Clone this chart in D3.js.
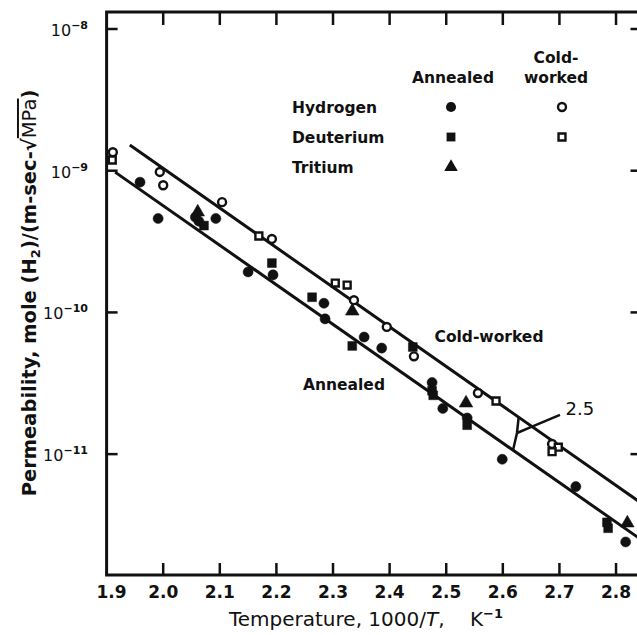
<!DOCTYPE html>
<html>
<head>
<meta charset="utf-8">
<script src="https://cdn.jsdelivr.net/npm/d3@7/dist/d3.min.js"></script>
<style>
  html, body { margin: 0; padding: 0; background: #fff; }
  svg { display: block; }
  text { font-family: "DejaVu Sans", sans-serif; font-weight: bold; fill: #111; }
</style>
</head>
<body>
<svg id="chart" width="637" height="635"></svg>
<script>
// ---------- data (x = 1000/T in K^-1, y = permeability) ----------
const xTicks = [1.9, 2.0, 2.1, 2.2, 2.3, 2.4, 2.5, 2.6, 2.7, 2.8];
const xTickLabels = ["1.9", "2.0", "2.1", "2.2", "2.3", "2.4", "2.5", "2.6", "2.7", "2.8"];
const yTicks = [1e-8, 1e-9, 1e-10, 1e-11];
const yTickExps = ["−8", "−9", "−10", "−11"];

const annealedHydrogen = [
  [1.959, 8.3e-10], [1.991, 4.6e-10], [2.063, 4.4e-10], [2.057, 4.7e-10], [2.093, 4.6e-10],
  [2.150, 1.93e-10], [2.194, 1.84e-10], [2.284, 1.16e-10], [2.286, 9.0e-11],
  [2.355, 6.7e-11], [2.386, 5.6e-11], [2.475, 3.2e-11], [2.494, 2.1e-11],
  [2.537, 1.8e-11], [2.599, 9.2e-12], [2.729, 5.9e-12], [2.817, 2.4e-12]
];
const annealedDeuterium = [
  [2.072, 4.1e-10], [2.192, 2.23e-10], [2.263, 1.28e-10], [2.334, 5.8e-11],
  [2.441, 5.7e-11], [2.475, 2.8e-11], [2.477, 2.6e-11], [2.537, 1.6e-11],
  [2.784, 3.3e-12], [2.786, 3.0e-12]
];
const annealedTritium = [
  [2.061, 5.1e-10], [2.334, 1.02e-10], [2.535, 2.29e-11], [2.820, 3.26e-12]
];
const coldHydrogen = [
  [1.911, 1.35e-9], [1.994, 9.8e-10], [2.000, 7.9e-10], [2.104, 6.0e-10],
  [2.192, 3.3e-10], [2.337, 1.22e-10], [2.395, 7.9e-11], [2.443, 4.9e-11],
  [2.556, 2.7e-11], [2.687, 1.18e-11]
];
const coldDeuterium = [
  [1.910, 1.19e-9], [2.169, 3.46e-10], [2.304, 1.61e-10], [2.325, 1.56e-10],
  [2.588, 2.37e-11], [2.698, 1.12e-11], [2.687, 1.04e-11]
];
const coldLine = [[1.941, 1.52e-9], [2.845, 4.50e-12]];
const annealedLine = [[1.915, 9.77e-10], [2.845, 2.48e-12]];
const slopeLabel = "2.5";

// ---------- layout ----------
const svg = d3.select("#chart");
const L = 106.6, R = 641.5, T = 12, B = 575;
const x = d3.scaleLinear().domain([1.9, 2.845]).range([L, R]);
const y = d3.scaleLog().domain([Math.pow(10, -11.853), Math.pow(10, -7.88)]).range([B, T]);

// value on a fit line (log-linear) at given x
function onLine(line, xv) {
  const [a, b] = line;
  const t = (xv - a[0]) / (b[0] - a[0]);
  return Math.pow(10, Math.log10(a[1]) + t * (Math.log10(b[1]) - Math.log10(a[1])));
}

// frame
svg.append("rect").attr("x", L).attr("y", T).attr("width", R - L).attr("height", B - T)
  .attr("fill", "none").attr("stroke", "#111").attr("stroke-width", 3);

// x ticks bottom & top
const gx = svg.append("g");
xTicks.forEach((t, i) => {
  if (i === 0) return;
  gx.append("line").attr("x1", x(t)).attr("x2", x(t)).attr("y1", B).attr("y2", B - 12)
    .attr("stroke", "#111").attr("stroke-width", 2.5);
  gx.append("line").attr("x1", x(t)).attr("x2", x(t)).attr("y1", T).attr("y2", T + 13)
    .attr("stroke", "#111").attr("stroke-width", 2.5);
});
xTicks.forEach((t, i) => {
  svg.append("text").attr("x", x(t) + (i === 0 ? 5 : 0)).attr("y", 598)
    .attr("text-anchor", "middle").style("font-size", "17px").text(xTickLabels[i]);
});

// y ticks left & right
yTicks.forEach((t, i) => {
  svg.append("line").attr("x1", L).attr("x2", L + 11).attr("y1", y(t)).attr("y2", y(t))
    .attr("stroke", "#111").attr("stroke-width", 2.5);
  svg.append("line").attr("x1", R).attr("x2", R - 11).attr("y1", y(t)).attr("y2", y(t))
    .attr("stroke", "#111").attr("stroke-width", 2.5);
  const tx = svg.append("text").attr("x", 88).attr("y", y(t) + 7)
    .attr("text-anchor", "end").style("font-size", "16px").style("font-weight", "normal");
  tx.append("tspan").text("10");
  tx.append("tspan").attr("dy", -7).style("font-size", "11px").style("font-weight", "bold").text(yTickExps[i]);
});

// axis titles
const xt = svg.append("text").attr("x", 366).attr("y", 626).attr("text-anchor", "middle")
  .style("font-size", "20px").style("font-weight", "normal").style("white-space", "pre");
xt.append("tspan").text("Temperature, 1000/");
xt.append("tspan").style("font-style", "italic").text("T");
xt.append("tspan").text(",    K");
xt.append("tspan").attr("dy", -8).style("font-size", "13px").style("font-weight", "bold").text("−1");

const yt = svg.append("text").attr("transform", "translate(36,293) rotate(-90)")
  .attr("text-anchor", "middle").style("font-size", "19.5px");
yt.append("tspan").text("Permeability, mole (H");
yt.append("tspan").attr("dy", 4).style("font-size", "13px").text("2");
yt.append("tspan").attr("dy", -4).text(")/(m-sec-√");
yt.append("tspan").style("text-decoration", "overline").style("font-weight", "normal").text("MPa");
yt.append("tspan").text(")");

// fit lines
const lineGen = d3.line().x(d => x(d[0])).y(d => y(d[1]));
[coldLine, annealedLine].forEach(l => {
  svg.append("path").attr("d", lineGen(l)).attr("fill", "none")
    .attr("stroke", "#111").attr("stroke-width", 3);
});

// slope annotation bracket
const xs = 2.618, xf = 2.625, xl = 2.628, xr = 2.6516;
const fork = [xf, 1.41e-11];
const bracket = [
  [xs, onLine(annealedLine, xs)], fork, [xl, onLine(coldLine, xl)]
];
svg.append("path").attr("d", lineGen(bracket)).attr("fill", "none").attr("stroke", "#111").attr("stroke-width", 2.5);
svg.append("path").attr("d", lineGen([fork, [xr, onLine(coldLine, xr)]])).attr("fill", "none")
  .attr("stroke", "#111").attr("stroke-width", 2.5);
svg.append("path").attr("d", lineGen([[xr, onLine(coldLine, xr)], [2.701, 1.89e-11]])).attr("fill", "none")
  .attr("stroke", "#111").attr("stroke-width", 2.5);
svg.append("text").attr("x", x(2.736)).attr("y", y(2.11e-11) + 7).attr("text-anchor", "middle")
  .style("font-size", "18px").style("font-weight", "normal").text(slopeLabel);

// line labels
svg.append("text").attr("x", 489).attr("y", 342).attr("text-anchor", "middle").style("font-size", "15.5px").text("Cold-worked");
svg.append("text").attr("x", 344).attr("y", 390).attr("text-anchor", "middle").style("font-size", "15.5px").text("Annealed");

// markers
const sym = {
  circle: d3.symbol().type(d3.symbolCircle).size(80),
  square: d3.symbol().type(d3.symbolSquare).size(78),
  triangle: d3.symbol().type(d3.symbolTriangle).size(80),
  ocircle: d3.symbol().type(d3.symbolCircle).size(50),
  osquare: d3.symbol().type(d3.symbolSquare).size(48)
};
function plot(data, kind, open) {
  svg.append("g").selectAll("path").data(data).join("path")
    .attr("transform", d => `translate(${x(d[0])},${y(d[1])})`)
    .attr("d", sym[kind]())
    .attr("fill", open ? "#fff" : "#111")
    .attr("stroke", "#111").attr("stroke-width", open ? 2.4 : 0.5);
}
plot(annealedHydrogen, "circle", false);
plot(annealedDeuterium, "square", false);
plot(annealedTritium, "triangle", false);
plot(coldHydrogen, "ocircle", true);
plot(coldDeuterium, "osquare", true);

// legend
const lg = svg.append("g");
lg.append("text").attr("x", 453).attr("y", 83).attr("text-anchor", "middle").style("font-size", "15.5px").text("Annealed");
lg.append("text").attr("x", 556).attr("y", 63).attr("text-anchor", "middle").style("font-size", "15.5px").text("Cold-");
lg.append("text").attr("x", 556).attr("y", 83).attr("text-anchor", "middle").style("font-size", "15.5px").text("worked");
const legendRows = [
  { name: "Hydrogen", a: "circle", c: "ocircle", cy: 107 },
  { name: "Deuterium", a: "square", c: "osquare", cy: 137 },
  { name: "Tritium", a: "triangle", c: null, cy: 167 }
];
legendRows.forEach(r => {
  lg.append("text").attr("x", 292).attr("y", r.cy + 6).style("font-size", "15.5px").text(r.name);
  lg.append("path").attr("transform", `translate(451,${r.cy})`).attr("d", sym[r.a]()).attr("fill", "#111");
  if (r.c) lg.append("path").attr("transform", `translate(562,${r.cy})`).attr("d", sym[r.c]())
    .attr("fill", "#fff").attr("stroke", "#111").attr("stroke-width", 2.4);
});
</script>
</body>
</html>
